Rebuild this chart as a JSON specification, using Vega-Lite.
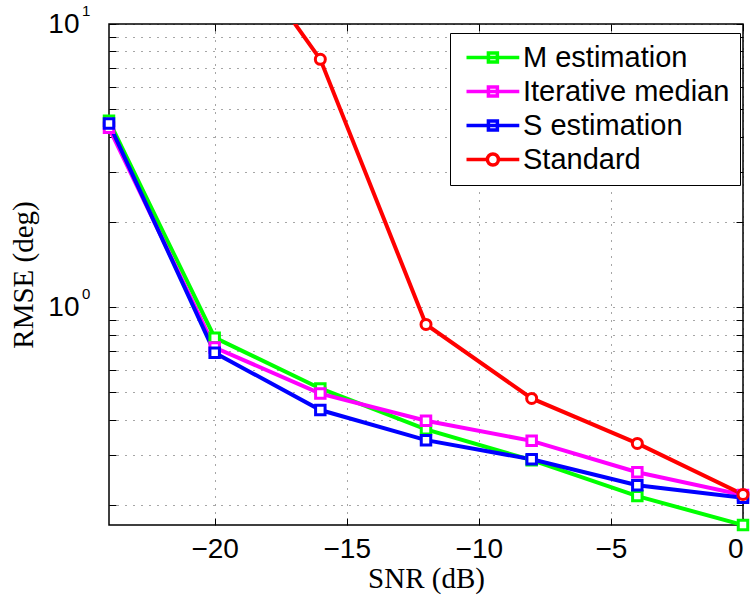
{
  "$schema": "https://vega.github.io/schema/vega-lite/v6.json",
  "width": 634,
  "height": 501,
  "autosize": "none",
  "padding": {"left": 109, "top": 24, "right": 8, "bottom": 71},
  "background": "white",
  "config": {
    "view": {"stroke": "black", "strokeWidth": 1.5},
    "axis": {
      "domain": false,
      "tickColor": "black",
      "tickWidth": 1,
      "tickSize": -7,
      "gridColor": "#000000",
      "gridOpacity": 0.7,
      "gridDash": [1, 7],
      "gridWidth": 1,
      "labelFont": "Liberation Sans",
      "labelFontSize": 28,
      "labelColor": "black",
      "titleFont": "Liberation Serif",
      "titleFontSize": 29,
      "titleFontWeight": "normal",
      "titleColor": "black"
    }
  },
  "resolve": {"axis": {"x": "independent", "y": "independent"}},
  "datasets": {
    "series": [
      {"snr": -24, "rmse": 4.55, "method": "M estimation"},
      {"snr": -20, "rmse": 0.78, "method": "M estimation"},
      {"snr": -16, "rmse": 0.516, "method": "M estimation"},
      {"snr": -12, "rmse": 0.37, "method": "M estimation"},
      {"snr": -8, "rmse": 0.288, "method": "M estimation"},
      {"snr": -4, "rmse": 0.215, "method": "M estimation"},
      {"snr": 0, "rmse": 0.17, "method": "M estimation"},
      {"snr": -24, "rmse": 4.3, "method": "Iterative median"},
      {"snr": -20, "rmse": 0.72, "method": "Iterative median"},
      {"snr": -16, "rmse": 0.495, "method": "Iterative median"},
      {"snr": -12, "rmse": 0.397, "method": "Iterative median"},
      {"snr": -8, "rmse": 0.337, "method": "Iterative median"},
      {"snr": -4, "rmse": 0.261, "method": "Iterative median"},
      {"snr": 0, "rmse": 0.217, "method": "Iterative median"},
      {"snr": -24, "rmse": 4.45, "method": "S estimation"},
      {"snr": -20, "rmse": 0.69, "method": "S estimation"},
      {"snr": -16, "rmse": 0.433, "method": "S estimation"},
      {"snr": -12, "rmse": 0.339, "method": "S estimation"},
      {"snr": -8, "rmse": 0.29, "method": "S estimation"},
      {"snr": -4, "rmse": 0.235, "method": "S estimation"},
      {"snr": 0, "rmse": 0.212, "method": "S estimation"},
      {"snr": -24, "rmse": 45, "method": "Standard"},
      {"snr": -20, "rmse": 25, "method": "Standard"},
      {"snr": -16, "rmse": 7.5, "method": "Standard"},
      {"snr": -12, "rmse": 0.869, "method": "Standard"},
      {"snr": -8, "rmse": 0.476, "method": "Standard"},
      {"snr": -4, "rmse": 0.33, "method": "Standard"},
      {"snr": 0, "rmse": 0.218, "method": "Standard"}
    ],
    "exps": [
      {"v": 10, "e": "1"},
      {"v": 1, "e": "0"}
    ]
  },
  "layer": [
    {
      "data": {"name": "series"},
      "mark": {"type": "line", "strokeWidth": 4, "clip": true},
      "encoding": {
        "x": {
          "field": "snr",
          "type": "quantitative",
          "scale": {"domain": [-24, 0], "nice": false, "zero": false},
          "axis": {
            "orient": "bottom",
            "values": [-20, -15, -10, -5, 0],
            "format": "d",
            "grid": true,
            "labelPadding": 17,
            "title": "SNR (dB)",
            "titlePadding": 1
          }
        },
        "y": {
          "field": "rmse",
          "type": "quantitative",
          "scale": {"type": "log", "domain": [0.17, 10], "nice": false},
          "axis": {
            "orient": "left",
            "values": [0.2, 0.3, 0.4, 0.5, 0.6, 0.7, 0.8, 0.9, 1, 2, 3, 4, 5, 6, 7, 8, 9, 10],
            "labelExpr": "datum.value == 1 || datum.value == 10 ? '10' : ''",
            "grid": true,
            "labelPadding": 37,
            "labelBaseline": "middle",
            "title": "RMSE (deg)",
            "titlePadding": 9
          }
        },
        "color": {
          "field": "method",
          "type": "nominal",
          "scale": {
            "domain": ["M estimation", "Iterative median", "S estimation", "Standard"],
            "range": ["#00ff00", "#ff00ff", "#0000ff", "#ff0000"]
          },
          "legend": {
            "title": null,
            "orient": "none",
            "legendX": 341,
            "legendY": 9,
            "padding": 10,
            "strokeColor": "black",
            "fillColor": "white",
            "labelFont": "Liberation Sans",
            "labelFontSize": 29,
            "labelColor": "black",
            "labelOffset": 34,
            "symbolSize": 256,
            "symbolStrokeWidth": 3.5,
            "rowPadding": 4,
            "labelLimit": 400,
            "encode": {
              "symbols": {
                "update": {
                  "shape": {"signal": "datum.value === 'Standard' ? 'M-1,0H1.61M2.99,0H5.6M1.61,0A0.69,0.69 0 1,0 2.99,0A0.69,0.69 0 1,0 1.61,0' : 'M-1,0H5.6M1.74,-0.56H2.86V0.56H1.74Z'"},
                  "fill": {"value": "white"},
                  "strokeWidth": {"value": 3.5}
                }
              }
            }
          }
        }
      }
    },
    {
      "data": {"name": "series"},
      "transform": [{"filter": "datum.method !== 'Standard'"}],
      "mark": {"type": "point", "shape": "square", "filled": false, "fill": "white", "fillOpacity": 1, "strokeWidth": 3, "size": 90, "opacity": 1, "clip": false},
      "encoding": {
        "x": {"field": "snr", "type": "quantitative", "axis": null},
        "y": {"field": "rmse", "type": "quantitative", "axis": null},
        "color": {"field": "method", "type": "nominal"}
      }
    },
    {
      "data": {"name": "series"},
      "transform": [{"filter": "datum.method === 'Standard' && datum.rmse <= 10"}],
      "mark": {"type": "point", "shape": "circle", "filled": false, "fill": "white", "fillOpacity": 1, "strokeWidth": 3, "size": 100, "opacity": 1, "clip": false},
      "encoding": {
        "x": {"field": "snr", "type": "quantitative", "axis": null},
        "y": {"field": "rmse", "type": "quantitative", "axis": null},
        "color": {"field": "method", "type": "nominal"}
      }
    },
    {
      "data": {"name": "exps"},
      "mark": {"type": "text", "align": "left", "baseline": "alphabetic", "dx": -27, "dy": -8, "fontSize": 15, "font": "Liberation Sans", "color": "black", "clip": false},
      "encoding": {
        "x": {
          "datum": -24,
          "type": "quantitative",
          "axis": {"orient": "top", "values": [-20, -15, -10, -5, 0], "labels": false, "grid": false, "title": null}
        },
        "y": {
          "field": "v",
          "type": "quantitative",
          "axis": {"orient": "right", "values": [0.2, 0.3, 0.4, 0.5, 0.6, 0.7, 0.8, 0.9, 1, 2, 3, 4, 5, 6, 7, 8, 9, 10], "labels": false, "grid": false, "title": null}
        },
        "text": {"field": "e"}
      }
    }
  ]
}
